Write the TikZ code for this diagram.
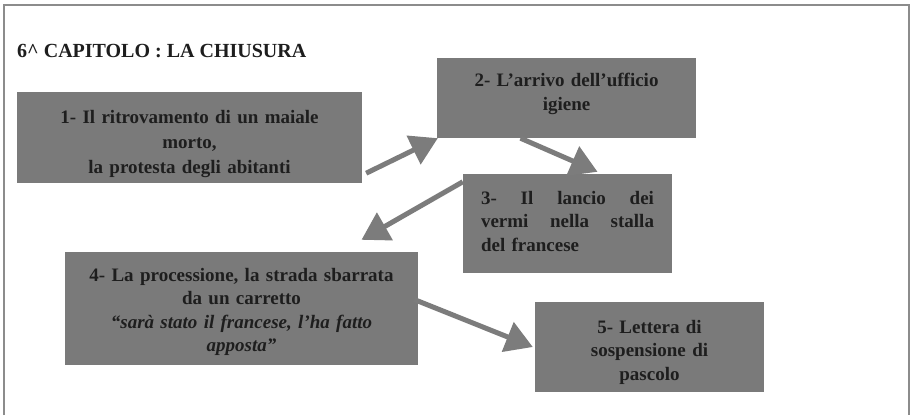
\documentclass[tikz,border=0pt]{standalone}
\usepackage{fontspec}
\setmainfont{Liberation Serif}
\usetikzlibrary{arrows.meta,calc}
\newcommand\myjfill{\hskip 0pt plus 1fill\relax}
\definecolor{boxgray}{HTML}{7A7A7A}
\definecolor{framegray}{HTML}{8C8C8C}
\definecolor{arrowgray}{HTML}{7C7C7C}
\definecolor{txt}{HTML}{1E1E1E}
\tikzset{
  stagebox/.style={fill=boxgray, draw=none, inner sep=0pt, text=txt,
    font=\bfseries\fontsize{19}{23.5}\selectfont, align=center},
  flowarrow/.style={draw=arrowgray, line width=5pt,
    -{Triangle[length=27pt,width=31pt]}},
  titletext/.style={font=\bfseries\fontsize{20}{24}\selectfont, text=txt, inner sep=0pt, anchor=west}
}
\begin{document}
\begin{tikzpicture}[x=1pt,y=-1pt]
\useasboundingbox (0,0) rectangle (912,415);
\fill[white] (0,0) rectangle (912,415);
% frame
\draw[framegray, line width=2.5pt] (4,415) -- (4,5) -- (909,5) -- (909,415);

\node[titletext] (title) at (17,51) {6\textasciicircum\ CAPITOLO : LA CHIUSURA};

\node[stagebox, font=\bfseries\fontsize{19}{25}\selectfont, minimum width=345pt, minimum height=91pt, text width=335pt, text depth=42pt] (b1) at (189.5,137.5)
  {1- Il ritrovamento di un maiale\\ morto,\\ la protesta degli abitanti};
\node[stagebox, minimum width=259pt, minimum height=80pt, text width=250pt, text depth=36pt] (b2) at (566.5,98)
  {2- L’arrivo dell’ufficio\\ igiene};
\node[stagebox, minimum width=209pt, minimum height=99pt, text width=173pt, align=left, text depth=52pt] (b3) at (567.5,223.5)
  {3-\myjfill Il\myjfill lancio\myjfill dei\\ vermi\myjfill nella\myjfill stalla\\ del francese};
\node[stagebox, minimum width=353pt, minimum height=113pt, text width=345pt, text depth=68pt] (b4) at (241.5,308.5)
  {4- La processione, la strada sbarrata\\ da un carretto\\ \textit{“sarà stato il francese, l’ha fatto}\\ \textit{apposta”}};
\node[stagebox, minimum width=229pt, minimum height=90pt, text width=220pt, text depth=41pt] (b5) at (649.5,347)
  {5- Lettera di\\ sospensione di\\ pascolo};

\draw[flowarrow] ($(b1.south east)+(4,-10)$) -- ($(b2.south west)+(1,0)$);
\draw[flowarrow] ($(b2.south)+(-46,0)$) -- ($(b3.north)+(30,-2)$);
\draw[flowarrow] ($(b3.north west)+(0,8)$) -- ($(b4.north)+(120,-12)$);
\draw[flowarrow] ($(b4.east)+(-4,-9)$) -- ($(b5.west)+(-2,0)$);
\end{tikzpicture}
\end{document}
